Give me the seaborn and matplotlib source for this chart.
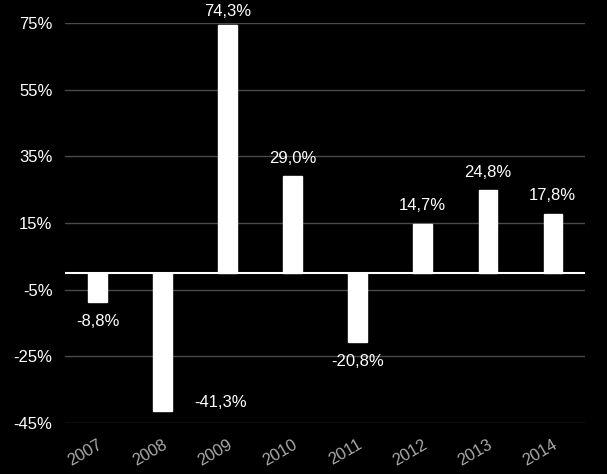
import matplotlib
matplotlib.use("Agg")
import matplotlib.pyplot as plt
import seaborn as sns

# data
years = ["2007", "2008", "2009", "2010", "2011", "2012", "2013", "2014"]
returns = [-8.8, -41.3, 74.3, 29.0, -20.8, 14.7, 24.8, 17.8]
yticks = [-45, -25, -5, 15, 35, 55, 75]

sns.set_theme(style="dark")
plt.rcParams['font.family'] = ['Liberation Sans', 'DejaVu Sans']

fig = plt.figure(figsize=(6.07, 4.74), dpi=100)
fig.patch.set_facecolor('black')
ax = fig.add_axes([0.107, 0.1076, 0.857, 0.844])
ax.set_facecolor('black')

sns.barplot(x=years, y=returns, color='white', width=0.28, saturation=1,
            edgecolor='white', ax=ax, zorder=3)

ax.set_ylim(-45, 75)
ax.set_yticks(yticks)
ax.set_yticklabels([f"{t}%" for t in yticks], color='white', fontsize=12)
ax.set_xticks(range(len(years)))
ax.set_xticklabels(years, rotation=30, ha='right', rotation_mode='anchor',
                   color='#aaaaaa', fontsize=12)
ax.tick_params(axis='both', length=0)
ax.tick_params(axis='y', pad=9)
ax.tick_params(axis='x', pad=10)
ax.set_xlabel('')
ax.set_ylabel('')

for s in ax.spines.values():
    s.set_visible(False)
ax.grid(axis='y', color='#4a4a4a', linewidth=1, zorder=0)
ax.grid(axis='x', visible=False)
ax.axhline(0, color='white', linewidth=1.5, zorder=4)

# value labels
for i, v in enumerate(returns):
    txt = f"{v:.1f}%".replace('.', ',')
    if v >= 60:
        off = (0, 10)  # tallest bar: label squeezed under the top edge
    elif v >= 0:
        off = (0, 13)
    elif i == 1:
        off = (42, 6)  # label sits beside the bar near the bottom
    else:
        off = (0, -14)
    ax.annotate(txt, (i, v), xytext=off, textcoords='offset points',
                ha='center', va='center', color='white', fontsize=12,
                annotation_clip=False)

plt.savefig("out.png", dpi=100, facecolor='black')
